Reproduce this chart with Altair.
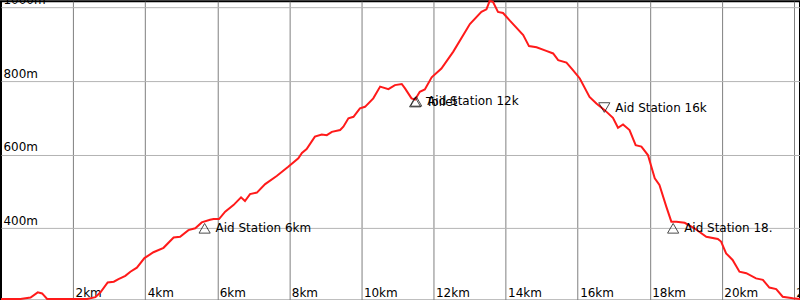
import altair as alt
import pandas as pd

dist_km = [0.00, 0.54, 0.82, 1.02, 1.14, 1.28, 1.83, 2.39, 2.62, 2.76, 2.96, 3.13, 3.26, 3.45, 3.59,
           3.77, 3.98, 4.23, 4.51, 4.79, 4.97, 5.20, 5.39, 5.57, 5.80, 5.90, 6.05, 6.22, 6.45, 6.66,
           6.77, 6.91, 7.10, 7.33, 7.65, 7.97, 8.25, 8.35, 8.48, 8.71, 8.90, 9.04, 9.18, 9.41, 9.50,
           9.64, 9.78, 9.96, 10.10, 10.33, 10.52, 10.75, 10.93, 11.12, 11.21, 11.39, 11.49, 11.62,
           11.76, 11.95, 12.22, 12.55, 13.01, 13.33, 13.47, 13.56, 13.65, 13.79, 13.93, 14.12, 14.49,
           14.65, 14.86, 15.13, 15.32, 15.46, 15.69, 15.87, 16.06, 16.33, 16.52, 16.75, 16.98, 17.12,
           17.26, 17.44, 17.61, 17.77, 17.95, 18.14, 18.27, 18.46, 18.60, 18.74, 18.97, 19.24, 19.57,
           19.89, 19.98, 20.12, 20.30, 20.49, 20.68, 20.95, 21.14, 21.32, 21.51, 21.69, 21.97, 22.17]

elev_m = [208, 208, 212, 226, 223, 208, 208, 208, 213, 226, 253, 255, 262, 271, 282,
          293, 319, 335, 347, 375, 377, 395, 400, 416, 423, 425, 425, 445, 463, 484,
          474, 493, 497, 520, 542, 567, 590, 605, 615, 649, 655, 653, 662, 667, 676,
          699, 703, 726, 730, 753, 785, 778, 789, 792, 780, 753, 750, 771,
          777, 810, 834, 880, 955, 988, 995, 1018, 1015, 988, 985, 964, 925,
          895, 892, 882, 875, 857, 850, 830, 807, 757, 739, 721, 700, 673,
          682, 667, 626, 622, 599, 536, 518, 459, 418, 418, 415, 400, 377,
          371, 364, 332, 314, 282, 278, 264, 260, 239, 235, 214, 210, 208]

marker_km = [5.65, 11.49, 11.52, 16.74, 18.65]
marker_m = [400, 743, 745, 728, 400]
marker_label = ["Aid Station 6km", "Toilet", "Aid Station 12k", "Aid Station 16k", "Aid Station 18."]
marker_shape = ["triangle-up", "triangle-up", "triangle-up", "triangle-down", "triangle-up"]

x_ticks = [2, 4, 6, 8, 10, 12, 14, 16, 18, 20, 22]
y_ticks = [400, 600, 800, 1000]

profile = pd.DataFrame({"km": dist_km, "m": elev_m})
markers = pd.DataFrame({"km": marker_km, "m": marker_m, "label": marker_label, "shape": marker_shape})

FONT = "DejaVu Sans"

x_enc = alt.X("km:Q",
              scale=alt.Scale(domain=[0, 22.17], nice=False, zero=False),
              axis=alt.Axis(values=x_ticks, labelExpr="datum.value + 'km'", title=None,
                            orient="bottom", domain=False, ticks=False, tickSize=0,
                            labelAlign="left", labelBaseline="alphabetic",
                            labelPadding=-4.5, labelOffset=2, labelFlush=False,
                            labelOverlap=False,
                            labelFont=FONT, labelFontSize=12, labelColor="#000000",
                            grid=True, gridColor="#808080", gridWidth=1))
y_enc = alt.Y("m:Q",
              scale=alt.Scale(domain=[203, 1017], nice=False, zero=False),
              axis=alt.Axis(values=y_ticks, labelExpr="datum.value + 'm'", title=None,
                            orient="left", domain=False, ticks=False, tickSize=0,
                            labelAlign="left", labelBaseline="alphabetic",
                            labelPadding=-2, labelOffset=-4, labelFlush=False,
                            labelOverlap=False,
                            labelFont=FONT, labelFontSize=12, labelColor="#000000",
                            grid=True, gridColor="#b4b4b4", gridWidth=1))

line = alt.Chart(profile).mark_line(color="#ff1a1a", strokeWidth=2).encode(x=x_enc, y=y_enc)

pts = alt.Chart(markers).mark_point(filled=False, stroke="black", strokeWidth=1, size=125).encode(
    x=alt.X("km:Q"), y=alt.Y("m:Q"),
    shape=alt.Shape("shape:N", scale=None))

txt = alt.Chart(markers).mark_text(align="left", baseline="middle", dx=11, font=FONT,
                                   fontSize=12, color="black").encode(
    x=alt.X("km:Q"), y=alt.Y("m:Q"), text="label:N")

chart = alt.layer(line, pts, txt).properties(
    width=800, height=300,
    autosize=alt.AutoSizeParams(type="none"),
    padding={"left": 1, "top": 1, "right": 0, "bottom": 0},
    background="white",
).configure_view(stroke="black", strokeWidth=2)

chart.save("out.html", embed_options={"renderer": "svg", "actions": False})
